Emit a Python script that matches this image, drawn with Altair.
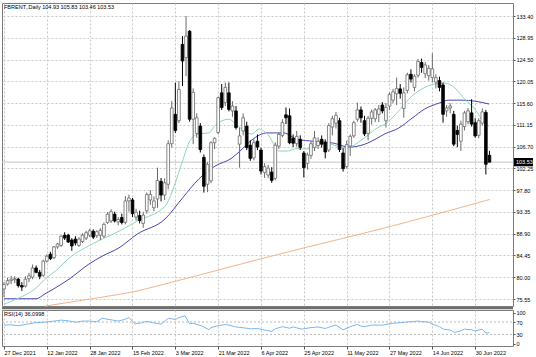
import altair as alt
import pandas as pd

# ---------------- data ----------------
date_labels = ["27 Dec 2021", "12 Jan 2022", "28 Jan 2022", "15 Feb 2022", "3 Mar 2022",
               "21 Mar 2022", "6 Apr 2022", "25 Apr 2022", "11 May 2022", "27 May 2022",
               "14 Jun 2022", "30 Jun 2022"]
label_bars = [0, 12, 24, 36, 48, 60, 72, 84, 96, 108, 120, 132]
price_ticks = [75.55, 80.00, 84.45, 88.90, 93.35, 97.80, 102.25, 106.70, 111.15,
               115.60, 120.05, 124.50, 128.95, 133.40]
rsi_ticks = [0, 30, 70, 100]

opens = [77.6, 78.6, 79.3, 79.5, 79.6, 78.3, 78.2, 79.7, 80.0, 81.9,
         81.0, 80.4, 83.3, 84.7, 84.0, 86.2, 86.5, 88.6, 88.6, 87.6,
         87.8, 86.5, 87.3, 88.0, 88.6, 89.4, 88.5, 88.6, 88.4, 91.2,
         91.5, 92.9, 91.3, 92.2, 91.2, 95.6, 95.8, 92.3, 92.6, 91.0,
         93.6, 95.8, 94.2, 96.0, 99.6, 96.8, 99.0, 107.3, 113.3, 112.0,
         127.6, 124.9, 130.3, 112.3, 109.4, 110.9, 104.5, 99.0, 99.7, 107.5,
         109.6, 117.7, 115.7, 117.7, 114.0, 114.0, 107.2, 109.9, 110.9, 107.0,
         104.4, 107.8, 106.0, 101.4, 100.9, 101.5, 100.2, 106.8, 109.0, 113.2,
         113.0, 108.4, 107.3, 108.2, 105.4, 103.3, 104.9, 106.5, 106.9, 108.2,
         107.6, 106.0, 110.7, 111.5, 112.0, 105.4, 102.6, 106.8, 108.9, 112.3,
         114.2, 112.0, 109.4, 112.5, 112.4, 113.3, 115.2, 112.0, 115.0, 116.2,
         117.5, 118.5, 114.5, 118.2, 121.5, 118.8, 121.3, 123.9, 121.6, 121.2,
         120.8, 119.9, 120.2, 119.3, 114.0, 114.6, 113.3, 110.0, 107.8, 110.8,
         111.8, 113.6, 111.6, 109.0, 111.5, 113.7, 104.93]
highs = [79.0, 79.9, 80.3, 80.2, 79.9, 79.0, 80.2, 80.9, 82.6, 82.4,
         81.5, 83.6, 84.7, 85.2, 86.4, 87.0, 88.6, 89.2, 88.9, 88.0,
         88.4, 88.2, 89.0, 89.5, 89.9, 89.8, 89.6, 90.0, 91.2, 93.3,
         93.9, 93.4, 92.3, 93.0, 96.6, 96.9, 96.2, 94.0, 93.6, 93.4,
         97.3, 97.8, 96.5, 102.4, 100.3, 100.2, 108.0, 116.0, 119.8, 120.1,
         129.3, 133.4, 130.5, 118.6, 113.5, 111.5, 105.1, 103.5, 107.8, 108.6,
         116.9, 119.5, 119.8, 119.8, 116.0, 115.0, 110.6, 113.5, 111.8, 108.0,
         108.2, 109.2, 106.5, 103.3, 103.0, 102.5, 107.6, 109.6, 112.3, 114.7,
         114.5, 109.2, 109.9, 109.0, 105.8, 105.5, 107.8, 109.9, 108.6, 109.0,
         108.2, 111.5, 113.0, 113.8, 112.6, 106.4, 107.9, 109.2, 112.0, 115.7,
         114.9, 113.0, 113.0, 114.3, 114.6, 115.2, 115.8, 115.6, 117.8, 118.5,
         120.8, 119.5, 118.8, 121.8, 122.5, 121.5, 124.6, 124.7, 124.0, 123.4,
         125.8, 121.5, 121.0, 119.8, 115.2, 115.6, 114.0, 111.0, 112.0, 114.0,
         114.6, 116.4, 112.5, 112.5, 114.5, 114.2, 105.83]
lows = [75.9, 78.3, 78.6, 78.8, 77.9, 77.2, 77.9, 79.0, 79.6, 80.8,
        79.6, 80.1, 83.0, 83.5, 83.7, 85.8, 86.2, 87.6, 87.0, 85.4,
        86.5, 86.2, 87.0, 87.6, 88.2, 87.8, 88.0, 87.6, 88.0, 90.9,
        91.1, 91.2, 90.6, 90.8, 90.8, 93.4, 92.3, 91.6, 91.0, 90.1,
        93.0, 94.8, 93.5, 94.2, 95.5, 95.8, 98.0, 106.5, 109.5, 111.5,
        119.1, 121.1, 111.8, 107.2, 108.5, 105.5, 97.3, 97.4, 99.2, 106.2,
        109.2, 114.2, 115.0, 113.9, 112.8, 110.2, 102.4, 109.0, 106.0, 103.8,
        103.9, 106.0, 101.0, 100.3, 100.3, 99.3, 99.8, 106.2, 108.6, 111.3,
        107.2, 106.6, 106.7, 106.0, 100.4, 102.0, 104.2, 105.8, 106.2, 106.5,
        104.3, 105.6, 109.0, 110.4, 105.6, 101.6, 102.2, 104.8, 108.5, 111.8,
        111.6, 108.9, 108.0, 111.2, 111.7, 111.7, 113.5, 110.6, 114.2, 115.6,
        115.2, 116.5, 112.6, 117.6, 119.8, 118.0, 120.8, 121.8, 120.7, 120.2,
        119.8, 118.6, 118.0, 111.6, 112.8, 113.5, 106.8, 106.6, 105.8, 110.0,
        111.3, 110.8, 108.5, 108.4, 111.0, 101.0, 103.46]
closes = [78.5, 79.3, 79.6, 79.7, 78.3, 78.0, 79.6, 80.3, 81.9, 81.0,
          80.2, 83.3, 84.3, 83.8, 86.2, 86.8, 88.4, 88.0, 87.2, 86.4,
          87.0, 87.8, 88.6, 89.1, 89.5, 88.2, 89.3, 89.6, 90.8, 92.9,
          93.4, 91.5, 91.8, 91.2, 95.6, 96.2, 93.0, 93.3, 91.6, 92.7,
          96.9, 96.9, 95.6, 99.8, 96.8, 99.3, 107.3, 114.6, 110.0, 118.4,
          124.2, 129.3, 112.3, 117.8, 112.6, 106.1, 98.6, 103.1, 107.5, 108.4,
          116.7, 114.7, 118.8, 114.3, 115.0, 110.6, 108.9, 112.6, 106.5, 104.3,
          107.5, 106.6, 101.7, 102.6, 102.3, 99.8, 107.0, 109.2, 111.6, 112.6,
          107.5, 107.4, 108.8, 106.5, 102.4, 105.0, 107.3, 108.5, 107.8, 107.2,
          105.6, 111.0, 112.4, 113.1, 106.1, 102.2, 107.1, 108.8, 111.6, 114.2,
          112.6, 109.3, 112.5, 113.8, 114.2, 114.4, 114.0, 114.7, 117.4, 117.9,
          118.6, 117.6, 117.7, 121.4, 120.5, 121.1, 124.1, 122.9, 123.4, 122.7,
          122.6, 120.8, 118.8, 113.3, 114.6, 115.0, 107.2, 109.2, 111.3, 113.6,
          114.0, 111.3, 108.9, 112.0, 113.8, 103.1, 103.53]

# moving averages (bar index, value)
ma_fast_bar = [0, 4, 9, 11.5, 15.4, 18.2, 22.7, 27.5, 32.2, 37.3, 45.1, 47.6, 49.9, 52.1,
               54.6, 57.4, 59.1, 61.1, 63.0, 64.7, 67.5, 69.5, 71.4, 74.2, 77.0, 79.3,
               82.1, 84.9, 87.7, 90.5, 93.3, 96.1, 98.9, 101.7, 104.5, 106.7, 110.6,
               113.4, 117.1, 120.7, 123.5, 126.3, 129.1, 131.9, 134.7, 135.9]
ma_fast_val = [74.5, 75.7, 77.8, 79.6, 81.9, 83.9, 86.0, 87.8, 89.4, 91.5, 94.5, 98.5, 103.5,
               107.9, 109.3, 109.5, 111.0, 112.0, 112.3, 111.5, 109.8, 109.3, 110.3, 108.9,
               105.8, 105.8, 106.3, 106.2, 107.2, 107.4, 106.8, 106.4, 107.4, 108.9, 110.5,
               111.3, 114.0, 116.4, 118.5, 119.5, 119.7, 118.7, 116.4, 114.4, 111.5, 110.9]
ma_mid_bar = [0, 9, 11.5, 18.2, 23.8, 27.5, 32.2, 37.3, 45.1, 49.9, 54.6, 59.1, 63.9, 66.7,
              69.5, 73.7, 78.4, 82.1, 86.8, 92.4, 96.6, 101.1, 104.5, 106.7, 110.6, 114.3,
              117.9, 121.9, 124.6, 128.3, 131.9, 135.9]
ma_mid_val = [75.6, 75.6, 76.6, 79.6, 82.7, 84.3, 86.0, 88.8, 91.9, 96.1, 100.1, 102.7,
              104.4, 106.2, 108.1, 109.5, 109.5, 108.2, 107.8, 107.4, 106.6, 107.2, 108.4,
              109.3, 110.5, 112.5, 114.4, 115.6, 116.2, 116.2, 116.0, 115.4]
ma_slow_bar = [11.5, 24.6, 37.3, 47.1, 55.5, 69.5, 83.5, 97.5, 111.5, 122.7, 136.1]
ma_slow_val = [74.1, 75.6, 77.2, 79.0, 80.6, 83.3, 85.9, 88.4, 91.0, 93.2, 95.9]

rsi_bar = [0, 2, 4, 6, 9, 12, 14, 16, 18, 20, 22, 24, 26, 27.5, 30, 32, 34, 35, 36.7, 38,
           40, 41.5, 44, 46, 48, 49, 50.7, 52, 53, 55.5, 57.4, 58, 60, 62, 63, 65, 66.7,
           69, 71, 73, 75, 76, 78, 80, 81, 83.5, 86, 88, 90, 92, 93, 95, 97.5, 99, 100,
           101, 103, 106, 109, 111.5, 113, 116, 117, 119, 120, 122, 123, 125, 126.3, 128,
           129, 131, 132, 134, 135, 136]
rsi_val = [60, 61, 58, 62, 68, 70, 73, 76, 74, 69, 73, 73, 71, 82, 77, 73, 79, 85, 64, 66,
           72, 68, 63, 82, 78, 84, 90, 64, 66, 57, 45, 52, 58, 62, 60, 54, 52, 48, 49, 44,
           40, 48, 55, 50, 54, 47, 52, 54, 49, 57, 60, 45, 57, 62, 57, 55, 60, 60, 66, 68,
           70, 73, 71, 70, 63, 55, 47, 44, 36, 42, 47, 45, 41, 47, 34, 36.1]

title_text = "FBRENT.,Daily  104.93 105.83 103.46 103.53"
rsi_text = "RSI(14) 36.0998"
last_price = 103.53

# ---------------- build tables ----------------
n = len(opens)
candles = pd.DataFrame({"i": list(range(n)), "o": opens, "h": highs, "l": lows, "c": closes})
candles["x1"] = candles["i"] - 0.38
candles["x2"] = candles["i"] + 0.38
candles["dir"] = ["up" if c >= o else "down" for o, c in zip(opens, closes)]

fast = pd.DataFrame({"i": ma_fast_bar, "v": ma_fast_val})
mid = pd.DataFrame({"i": ma_mid_bar, "v": ma_mid_val})
slow = pd.DataFrame({"i": ma_slow_bar, "v": ma_slow_val})
rsi = pd.DataFrame({"i": rsi_bar, "v": rsi_val})

FONT = "Liberation Sans"
FS = 5.5
W = 511
H_MAIN = 303
H_RSI = 36
grid_col = "#c9c9c9"

xscale = alt.Scale(domain=[-0.56, 142.6], nice=False, zero=False)
yscale = alt.Scale(domain=[74.12, 136.06], nice=False, zero=False)
rscale = alt.Scale(domain=[-7.4, 108.7], nice=False, zero=False)

x_axis_main = alt.Axis(values=label_bars, labels=False, ticks=False, domain=False, grid=True,
                       gridDash=[2, 2], gridColor=grid_col, title=None)
y_axis_main = alt.Axis(orient="right", values=price_ticks, format=".2f", grid=True,
                       gridDash=[2, 2], gridColor=grid_col, domain=False, tickSize=2,
                       tickColor="#555", labelPadding=1, labelFont=FONT, labelFontSize=FS,
                       labelColor="#000", title=None)

X = alt.X("i:Q", scale=xscale, axis=x_axis_main)
Y_common = dict(scale=yscale, axis=y_axis_main)

wicks = alt.Chart(candles).mark_rule(strokeWidth=1).encode(
    x=X,
    y=alt.Y("l:Q", **Y_common),
    y2="h:Q",
    color=alt.Color("dir:N", scale=alt.Scale(domain=["up", "down"], range=["#6a6a6a", "#000000"]), legend=None),
)
bodies = alt.Chart(candles).mark_rect(strokeWidth=0.8).encode(
    x=alt.X("x1:Q", scale=xscale, axis=x_axis_main),
    x2="x2:Q",
    y=alt.Y("o:Q", **Y_common),
    y2="c:Q",
    fill=alt.Fill("dir:N", scale=alt.Scale(domain=["up", "down"], range=["#ffffff", "#000000"]), legend=None),
    stroke=alt.Stroke("dir:N", scale=alt.Scale(domain=["up", "down"], range=["#6a6a6a", "#000000"]), legend=None),
)

def ma_line(df, col, width=1.0):
    return alt.Chart(df).mark_line(color=col, strokeWidth=width, interpolate="monotone").encode(
        x=X, y=alt.Y("v:Q", **Y_common))

slow_line = ma_line(slow, "#f2b48e")
mid_line = ma_line(mid, "#4848b0")
fast_line = ma_line(fast, "#8fd6b6")

bid = alt.Chart(pd.DataFrame({"p": [last_price]})).mark_rule(color="#c4c4c4", strokeWidth=1).encode(
    y=alt.Y("p:Q", **Y_common), x=alt.value(0), x2=alt.value(W))

tag_df = pd.DataFrame({"p": [last_price], "p1": [last_price + 0.85], "p2": [last_price - 0.85],
                       "t": [f"{last_price:.2f}"]})
tag = alt.Chart(tag_df).mark_rect(color="#000000").encode(
    y=alt.Y("p1:Q", **Y_common), y2="p2:Q", x=alt.value(W + 1), x2=alt.value(W + 20))
tag_text = alt.Chart(tag_df).mark_text(align="left", baseline="middle", color="#ffffff",
                                       font=FONT, fontSize=FS).encode(
    y=alt.Y("p:Q", **Y_common), x=alt.value(W + 3), text="t:N")

title = alt.Chart(pd.DataFrame({"t": [title_text]})).mark_text(
    align="left", baseline="middle", font=FONT, fontSize=FS, color="#000").encode(
    x=alt.value(2), y=alt.value(3.8), text="t:N")

separator = alt.Chart(pd.DataFrame({"a": [0]})).mark_rule(color="#6e6e6e", strokeWidth=2.2).encode(
    x=alt.value(0), x2=alt.value(W), y=alt.value(H_MAIN + 2.2))

main = alt.layer(bid, slow_line, mid_line, fast_line, wicks, bodies, tag, tag_text, title, separator
                 ).properties(width=W, height=H_MAIN)

# ---------------- RSI panel ----------------
expr_list = "[" + ",".join("'" + s + "'" for s in date_labels) + "]"
x_axis_rsi = alt.Axis(values=label_bars, labelExpr=expr_list + "[round(datum.value/12)]",
                      labelAlign="left", labelBaseline="top", labelFlush=False, labelOverlap=False,
                      grid=True, gridDash=[2, 2], gridColor=grid_col, domain=False, tickSize=3,
                      tickColor="#555", labelPadding=1, labelFont=FONT, labelFontSize=FS,
                      labelColor="#000", title=None)
y_axis_rsi = alt.Axis(orient="right", values=rsi_ticks, format="d", grid=False, domain=False,
                      tickSize=2, tickColor="#555", labelPadding=1, labelFont=FONT,
                      labelFontSize=FS, labelColor="#000", title=None)
XR = alt.X("i:Q", scale=xscale, axis=x_axis_rsi)

levels = alt.Chart(pd.DataFrame({"v": [30, 70]})).mark_rule(
    color="#b8b8b8", strokeDash=[2, 2], strokeWidth=1).encode(
    y=alt.Y("v:Q", scale=rscale, axis=y_axis_rsi), x=alt.value(0), x2=alt.value(W))
rsi_line = alt.Chart(rsi).mark_line(color="#7ab8ee", strokeWidth=1).encode(
    x=XR, y=alt.Y("v:Q", scale=rscale, axis=y_axis_rsi))
rsi_label = alt.Chart(pd.DataFrame({"t": [rsi_text]})).mark_text(
    align="left", baseline="middle", font=FONT, fontSize=FS, color="#000").encode(
    x=alt.value(2), y=alt.value(4), text="t:N")

lower = alt.layer(levels, rsi_line, rsi_label).properties(width=W, height=H_RSI)

chart = alt.vconcat(main, lower, spacing=4, bounds="flush").properties(
    padding={"left": 0, "top": 2, "right": 0, "bottom": 0},
    background="#ffffff",
).configure_view(stroke="#7c7c7c", strokeWidth=1)

chart.save("out.html", embed_options={"renderer": "svg", "actions": False})
